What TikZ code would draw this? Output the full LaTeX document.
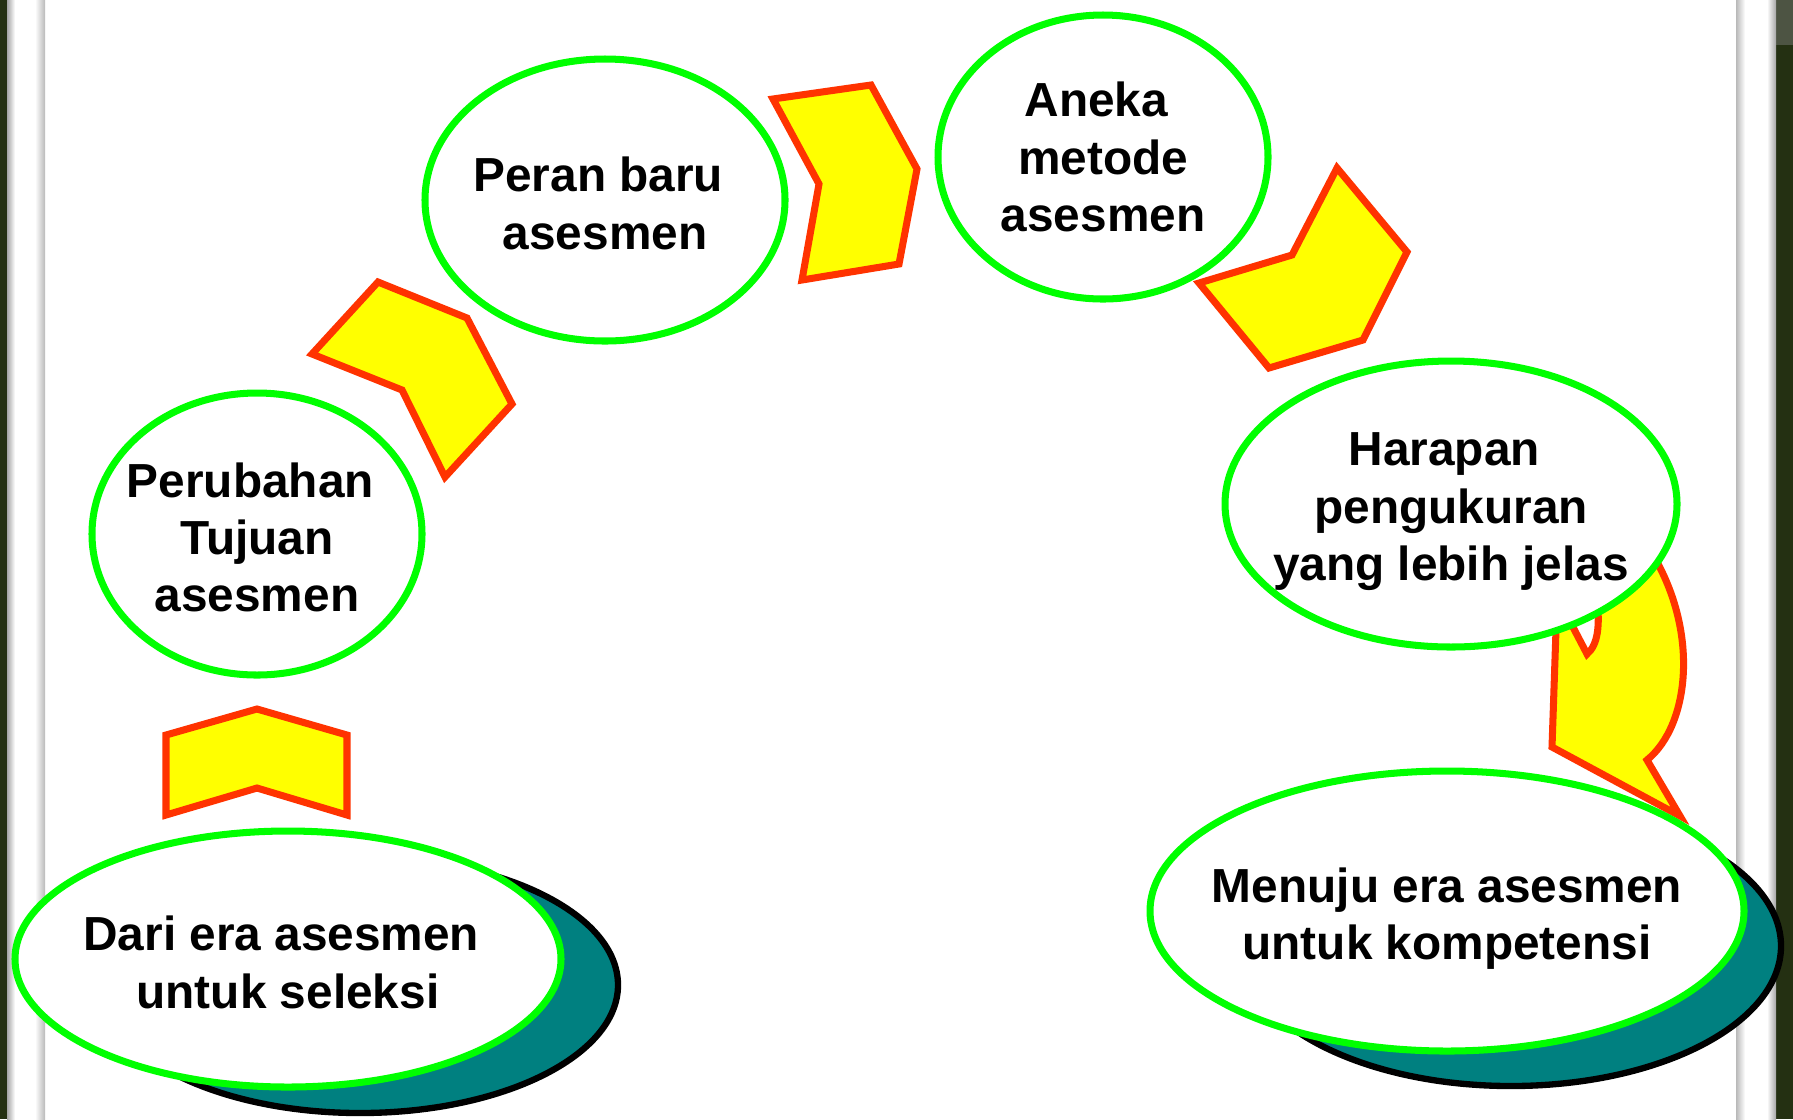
\documentclass[tikz,border=0pt]{standalone}
\usepackage{fontspec}
\setmainfont{Liberation Sans}
\usetikzlibrary{shapes.geometric}
\definecolor{ringgreen}{HTML}{00FF00}
\definecolor{arrowred}{HTML}{FF3300}
\definecolor{arrowyellow}{HTML}{FFFF00}
\definecolor{shadowteal}{HTML}{008080}
\definecolor{boardgreen}{HTML}{243012}
\newcommand{\tsp}{\hspace*{.28em}}
\begin{document}
\begin{tikzpicture}[x=1cm,y=-1cm,
    chev/.style={fill=arrowyellow,draw=arrowred,line width=2pt,line join=miter}]
        \useasboundingbox (0,0) rectangle (17.93,11.19);
        % board and frame
        \fill[white] (0,0) rectangle (17.93,11.19);
        \fill[boardgreen] (0,0) rectangle (0.07,11.19);
        \fill[boardgreen] (17.76,0) rectangle (17.93,11.19);
        \fill[boardgreen!55!gray] (17.76,0) rectangle (17.93,0.45);
        \shade[left color=gray!70,right color=white] (0.07,0) rectangle (0.15,11.19);
        \shade[left color=white,right color=gray!55] (0.35,0) rectangle (0.45,11.19);
        \shade[left color=gray!55,right color=white] (17.36,0) rectangle (17.45,11.19);
        \shade[left color=white,right color=gray!70] (17.67,0) rectangle (17.76,11.19);
        % arrows
        \draw[chev] (1.66,7.35) -- (2.57,7.09) -- (3.47,7.35) -- (3.47,8.15) -- (2.57,7.88) -- (1.66,8.15) -- cycle;
        \draw[chev] (3.12,3.54) -- (3.78,2.82) -- (4.67,3.18) -- (5.12,4.04) -- (4.45,4.77) -- (4.02,3.90) -- cycle;
        \draw[chev] (7.73,0.99) -- (8.71,0.85) -- (9.17,1.69) -- (8.99,2.64) -- (8.02,2.80) -- (8.19,1.84) -- cycle;
        \draw[chev] (13.37,1.68) -- (14.07,2.52) -- (13.63,3.40) -- (12.69,3.68) -- (11.99,2.83) -- (12.92,2.55) -- cycle;
        \draw[chev] (15.64,6.10) -- (15.87,6.54) .. controls (15.98,6.45) and (16.00,6.25) .. (15.97,6.00)
            -- (16.50,5.50) .. controls (17.00,6.30) and (16.90,7.25) .. (16.47,7.60)
            -- (16.80,8.16) -- (15.52,7.47) -- (15.57,6.00) -- cycle;
        % shadows
        \begin{scope}[every node/.style={ellipse,draw=black,fill=shadowteal,line width=1.8pt,inner sep=0pt}]
        \node[minimum width=5.16cm,minimum height=2.56cm] (s1) at (3.60,9.85) {};
        \node[minimum width=5.40cm,minimum height=2.80cm] (s6) at (15.11,9.46) {};
        \end{scope}
        % rings
        \begin{scope}[every node/.style={ellipse,draw=ringgreen,fill=white,line width=2pt,inner sep=0pt}]
        \node[minimum width=5.46cm,minimum height=2.56cm] (e1) at (2.88,9.59) {};
        \node[minimum width=3.30cm,minimum height=2.82cm] (e2) at (2.57,5.34) {};
        \node[minimum width=3.60cm,minimum height=2.82cm] (e3) at (6.05,2.00) {};
        \node[minimum width=3.30cm,minimum height=2.84cm] (e4) at (11.03,1.57) {};
        \node[minimum width=4.52cm,minimum height=2.86cm] (e5) at (14.51,5.04) {};
        \node[minimum width=5.94cm,minimum height=2.80cm] (e6) at (14.47,9.11) {};
        \end{scope}
        % texts
        \begin{scope}[every node/.style={align=center,yshift=-1pt,font=\fontsize{13.6}{16.3}\selectfont\bfseries}]
        \node (t1) at (e1) {Dari era asesmen\tsp\\untuk seleksi};
        \node (t2) at (e2) {Perubahan\tsp\\Tujuan\\asesmen};
        \node (t3) at (e3) {Peran baru\tsp\\asesmen};
        \node[yshift=1pt] (t4) at (e4) {Aneka\tsp\\metode\tsp\\asesmen};
        \node[yshift=-1.2pt] (t5) at (e5) {Harapan\tsp\\pengukuran\tsp\\yang lebih jelas};
        \node[yshift=-1.2pt] (t6) at (e6) {Menuju era asesmen\\untuk kompetensi};
        \end{scope}
        \end{tikzpicture}
\end{document}
